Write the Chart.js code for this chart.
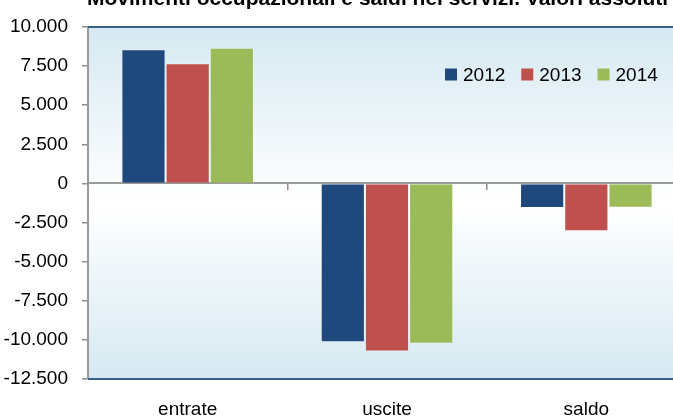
<!DOCTYPE html>
<html>
<head>
<meta charset="utf-8">
<script src="https://cdn.jsdelivr.net/npm/chart.js@4/dist/chart.umd.min.js"></script>
<style>
  html, body { margin: 0; padding: 0; width: 673px; height: 417px; overflow: hidden; background: #ffffff; }
  #wrap { position: absolute; left: 0; top: -14px; width: 686px; height: 450px; }
</style>
</head>
<body>
<div id="wrap"><canvas id="chart" width="686" height="450"></canvas></div>
<script>
// Movimenti occupazionali nei servizi (valori assoluti)
const categories = ['entrate', 'uscite', 'saldo'];
const years = ['2012', '2013', '2014'];
const values2012 = [8580, -10150, -1570];
const values2013 = [7690, -10750, -3060];
const values2014 = [8680, -10240, -1560];
const yMin = -12500;
const yMax = 10000;
const yStep = 2500;
const titleText = 'Movimenti occupazionali e saldi nei servizi. Valori assoluti';

const seriesColors = ['#1f497d', '#c0504d', '#9bbb59'];
const FONT = '"Liberation Sans", Arial, sans-serif';

// Italian number format: 10.000, -2.500
function formatIt(v) {
  const s = Math.abs(v).toString().replace(/\B(?=(\d{3})+(?!\d))/g, '.');
  return (v < 0 ? '-' : '') + s;
}

const plotDecor = {
  id: 'plotDecor',
  beforeDraw(chart) {
    const { ctx, chartArea: a } = chart;
    const g = ctx.createLinearGradient(0, a.top, 0, a.bottom);
    g.addColorStop(0, '#d6e9f2');
    g.addColorStop(0.5, '#ffffff');
    g.addColorStop(1, '#d6e9f2');
    ctx.save();
    ctx.fillStyle = g;
    ctx.fillRect(a.left, a.top, a.right - a.left, a.bottom - a.top);
    ctx.restore();
  },
  afterDatasetsDraw(chart) {
    const { ctx, chartArea: a } = chart;
    ctx.save();
    ctx.strokeStyle = '#3a5f8f';
    ctx.lineWidth = 2;
    ctx.beginPath();
    ctx.moveTo(a.left, a.top);
    ctx.lineTo(a.right, a.top);
    ctx.moveTo(a.left, a.bottom);
    ctx.lineTo(a.right, a.bottom);
    ctx.stroke();
    ctx.restore();
  },
  afterDraw(chart) {
    const { ctx, chartArea: a } = chart;
    ctx.save();
    // title
    ctx.fillStyle = '#000000';
    ctx.font = 'bold 21px ' + FONT;
    ctx.textBaseline = 'alphabetic';
    ctx.textAlign = 'left';
    ctx.fillText(titleText, a.left - 1, 19);
    // legend inside the plot area
    ctx.font = '19px ' + FONT;
    let x = a.left + 357;
    const boxTop = a.top + 41.5;
    chart.data.datasets.forEach((ds) => {
      ctx.fillStyle = ds.backgroundColor;
      ctx.fillRect(x, boxTop, 12, 12);
      ctx.fillStyle = '#000000';
      ctx.fillText(ds.label, x + 18, boxTop + 12.5);
      x += 18 + ctx.measureText(ds.label).width + 16;
    });
    ctx.restore();
  }
};

const barStyle = (i) => ({
  backgroundColor: seriesColors[i],
  borderColor: 'rgba(255,255,255,0.25)',
  borderWidth: 1,
  xAxisID: 'x',
  yAxisID: 'y'
});

new Chart(document.getElementById('chart'), {
  type: 'bar',
  data: {
    labels: categories,
    datasets: [
      Object.assign({ label: years[0], data: values2012 }, barStyle(0)),
      Object.assign({ label: years[1], data: values2013 }, barStyle(1)),
      Object.assign({ label: years[2], data: values2014 }, barStyle(2))
    ]
  },
  options: {
    responsive: false,
    animation: false,
    devicePixelRatio: 1,
    layout: { padding: { top: 41, left: 0, right: 0, bottom: 0 } },
    datasets: { bar: { barPercentage: 1, categoryPercentage: 0.665 } },
    plugins: {
      legend: { display: false },
      title: { display: false },
      tooltip: { enabled: false }
    },
    scales: {
      x: {
        type: 'category',
        position: 'bottom',
        offset: true,
        grid: { display: false, drawTicks: false },
        border: { display: false },
        ticks: { padding: 19, color: '#000000', maxRotation: 0, font: { family: FONT, size: 19 } },
        afterFit(s) { s.height = 57; }
      },
      x2: {
        type: 'category',
        labels: categories,
        position: { y: 0 },
        offset: true,
        grid: { offset: true, drawOnChartArea: false, drawTicks: true, tickLength: 6, color: '#8e8e8e', lineWidth: 1.5 },
        border: { display: true, color: '#9a9a9a', width: 2 },
        ticks: { display: false },
        z: 1
      },
      y: {
        min: yMin,
        max: yMax,
        ticks: {
          stepSize: yStep,
          padding: 14,
          color: '#000000',
          font: { family: FONT, size: 19 },
          callback: (v) => formatIt(v)
        },
        grid: { drawOnChartArea: false, drawTicks: true, tickLength: 6, color: '#8e8e8e', lineWidth: 1.5 },
        border: { display: true, color: '#9a9a9a', width: 2 },
        afterFit(s) { s.width = 88; },
        z: 1
      }
    }
  },
  plugins: [plotDecor]
});
</script>
</body>
</html>
